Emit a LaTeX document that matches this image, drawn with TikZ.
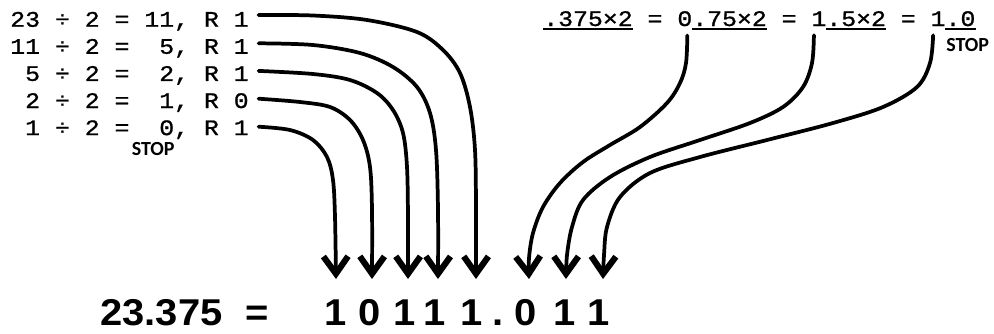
\documentclass[tikz,border=0pt]{standalone}
\usepackage{fontspec}
\usetikzlibrary{arrows.meta}
\newfontfamily\monofnt[FakeStretch=1.12,FakeBold=1]{Liberation Mono}
\newfontfamily\bigfnt[FakeStretch=1.07]{Liberation Sans}
\newfontfamily\stopfnt{Carlito}
\tikzset{
  mono/.style={font=\monofnt\fontsize{16.63pt}{20pt}\selectfont, inner sep=0pt, anchor=base west},
  bigtxt/.style={font=\bigfnt\fontsize{28pt}{33pt}\selectfont\bfseries, inner sep=0pt, anchor=base},
  stoptxt/.style={font=\stopfnt\fontsize{15pt}{18pt}\selectfont\bfseries, inner sep=0pt, anchor=base west},
  conn/.style={line width=2.8pt, line cap=round, line join=round,
    -{Straight Barb[length=13pt,width=18.5pt,line width=4.6pt]}},
  uline/.style={line width=1.5pt},
  curve/.style={smooth, tension=0.55},
}
\begin{document}
\begin{tikzpicture}[x=0.75pt,y=-0.75pt]
\fill[white] (0,0) rectangle (994,333);
\useasboundingbox (0,0) rectangle (994,333);

% left: divisions
\node[mono] (r1) at (10,26.7)  {23~÷~2~=~11,~R~1};
\node[mono] (r2) at (10,53.8)  {11~÷~2~=~~5,~R~1};
\node[mono] (r3) at (10,80.9)  {~5~÷~2~=~~2,~R~1};
\node[mono] (r4) at (10,108.0) {~2~÷~2~=~~1,~R~0};
\node[mono] (r5) at (10,135.1) {~1~÷~2~=~~0,~R~1};
\node[stoptxt] (stopl) at (131.5,155) {STOP};

% right: multiplications
\node[mono] (n1) at ({543+0*14.9},26)  {.375×2};
\node[mono] (e1) at ({543+7*14.9},26)  {=};
\node[mono] (d1) at ({543+9*14.9},26)  {0};
\node[mono] (n2) at ({543+10*14.9},26) {.75×2};
\node[mono] (e2) at ({543+16*14.9},26) {=};
\node[mono] (d2) at ({543+18*14.9},26) {1};
\node[mono] (n3) at ({543+19*14.9},26) {.5×2};
\node[mono] (e3) at ({543+24*14.9},26) {=};
\node[mono] (d3) at ({543+26*14.9},26) {1};
\node[mono] (n4) at ({543+27*14.9},26) {.0};
\node[stoptxt] (stopr) at (946,51) {STOP};
\foreach \n in {n1,n2,n3,n4}
  \draw[uline] ([shift={(0,3.3)}]\n.base west) -- ([shift={(0,3.3)}]\n.base east);

% bottom result
\node[bigtxt, anchor=base west] (lhs) at (100,325) {23.375};
\node[bigtxt] (eq) at (257.5,325) {=};
\node[bigtxt] (b1) at (335.7,325) {1};
\node[bigtxt] (b2) at (370,325)   {0};
\node[bigtxt] (b3) at (404.8,325) {1};
\node[bigtxt] (b4) at (434.8,325) {1};
\node[bigtxt] (b5) at (471.5,325) {1};
\node[bigtxt] (bp) at (498.3,325) {.};
\node[bigtxt] (b6) at (525.5,325) {0};
\node[bigtxt] (b7) at (564.8,325) {1};
\node[bigtxt] (b8) at (598.2,325) {1};

% arrow ends above the digits
\coordinate (t1) at (336,279);
\coordinate (t2) at (372,279);
\coordinate (t3) at (408,279);
\coordinate (t4) at (438,279);
\coordinate (t5) at (476,279);
\coordinate (t6) at (529,279);
\coordinate (t7) at (566,279);
\coordinate (t8) at (603,279);

% connector starts
\coordinate (s1) at ([shift={(9.6,-11.7)}]r1.base east);
\coordinate (s2) at ([shift={(9.6,-10.5)}]r2.base east);
\coordinate (s3) at ([shift={(9.6,-10)}]r3.base east);
\coordinate (s4) at ([shift={(9.6,-9.3)}]r4.base east);
\coordinate (s5) at ([shift={(9.6,-8.4)}]r5.base east);
\coordinate (sa) at ([shift={(2.5,9)}]d1.south);
\coordinate (sb) at ([shift={(-5,9)}]d2.south);
\coordinate (sc) at ([shift={(-5,9)}]d3.south);

% left connectors
\draw[conn] plot[curve] coordinates {(s1) (313,15.5) (367,20) (417,32) (443,50) (460,73) (470,107) (475,150) (476,210) (t5)};
\draw[conn] plot[curve] coordinates {(s2) (313,45) (360,53) (393,67) (417,87) (430,113) (436,150) (438,210) (t4)};
\draw[conn] plot[curve] coordinates {(s3) (313,74) (350,80) (377,93) (393,110) (403,133) (407,167) (408,220) (t3)};
\draw[conn] plot[curve] coordinates {(s4) (300,102) (330,107) (350,120) (363,140) (370,167) (372,210) (t2)};
\draw[conn] plot[curve] coordinates {(s5) (290,130) (313,140) (327,157) (333,180) (335,217) (t1)};

% right connectors
\draw[conn] plot[curve] coordinates {(sa) (686,63) (680,83) (667,103) (640,127) (610,145) (583,162) (560,183) (543,207) (533,233) (529,258) (t6)};
\draw[conn] plot[curve] coordinates {(sb) (812,63) (803,87) (783,107) (750,123) (700,140) (650,157) (610,177) (583,200) (572,227) (567,255) (t7)};
\draw[conn] plot[curve] coordinates {(sc) (930,63) (917,87) (883,107) (833,123) (767,140) (700,157) (650,173) (620,197) (607,227) (604,255) (t8)};
\end{tikzpicture}
\end{document}
